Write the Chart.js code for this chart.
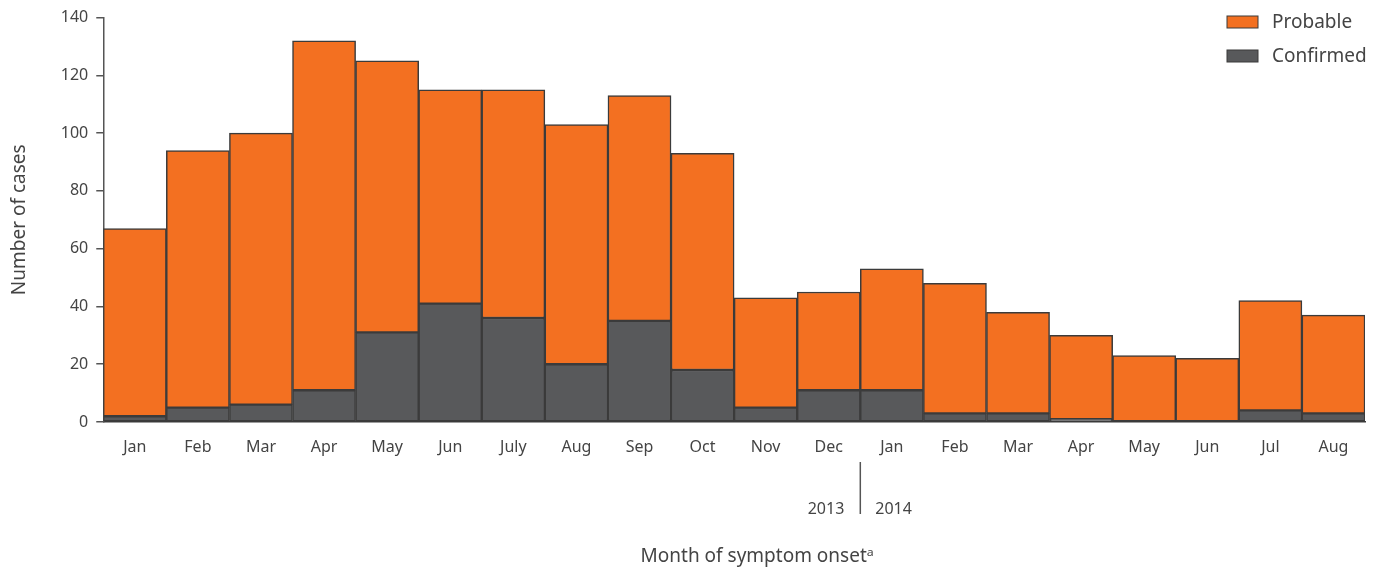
<!DOCTYPE html>
<html>
<head>
<meta charset="utf-8">
<script src="https://cdn.jsdelivr.net/npm/chart.js@4/dist/chart.umd.min.js"></script>
<style>
  body { margin: 0; background: #fff; }
  #wrap { width: 1381px; height: 570px; position: relative; }
</style>
</head>
<body>
<div id="wrap"><canvas id="graphique"></canvas></div>
<script>
const mois = ['Jan', 'Feb', 'Mar', 'Apr', 'May', 'Jun', 'July', 'Aug', 'Sep', 'Oct', 'Nov', 'Dec',
  'Jan', 'Feb', 'Mar', 'Apr', 'May', 'Jun', 'Jul', 'Aug'];
const totaux = [67, 94, 100, 132, 125, 115, 115, 103, 113, 93, 43, 45, 53, 48, 38, 30, 23, 22, 42, 37];
const confirmes = [2, 5, 6, 11, 31, 41, 36, 20, 35, 18, 5, 11, 11, 3, 3, 1, 0, 0, 4, 3];
const probables = totaux.map((t, i) => t - confirmes[i]);
const annees = ['2013', '2014'];
const yTicks = [0, 20, 40, 60, 80, 100, 120, 140];
const titreX = 'Month of symptom onset\u1d43';

const orange = '#F37021';
const gris = '#58595B';
const bord = '#3b3b3b';
const police = '"Noto Sans", "Open Sans", sans-serif';

// années + séparateur + titre x + légende
const extras = {
  id: 'extras',
  afterDraw(chart) {
    const ctx = chart.ctx;
    const x = chart.scales.x;
    const xSep = (x.getPixelForTick(11) + x.getPixelForTick(12)) / 2;
    ctx.save();
    ctx.strokeStyle = '#555';
    ctx.lineWidth = 1.5;
    ctx.beginPath();
    ctx.moveTo(xSep, 462);
    ctx.lineTo(xSep, 514);
    ctx.stroke();
    ctx.fillStyle = '#444';
    ctx.font = '16px ' + police;
    ctx.textBaseline = 'middle';
    ctx.textAlign = 'right';
    ctx.fillText(annees[0], xSep - 16, 509);
    ctx.textAlign = 'left';
    ctx.fillText(annees[1], xSep + 15, 509);

    // titre de l'axe x, un peu décalé à droite comme dans l'original
    ctx.font = '19px ' + police;
    ctx.textAlign = 'center';
    ctx.fillText(titreX, (x.left + x.right) / 2 + 23, 557);

    // légende
    const items = [['Probable', orange], ['Confirmed', gris]];
    items.forEach((it, i) => {
      const y = 22 + i * 34;
      ctx.fillStyle = it[1];
      ctx.fillRect(1227, y - 6, 31, 12);
      ctx.strokeStyle = bord;
      ctx.lineWidth = 1;
      ctx.strokeRect(1227, y - 6, 31, 12);
      ctx.fillStyle = '#444';
      ctx.textAlign = 'left';
      ctx.fillText(it[0], 1272, y + 1);
    });
    ctx.restore();
  }
};

new Chart(document.getElementById('graphique'), {
  type: 'bar',
  data: {
    labels: mois,
    datasets: [
      {
        label: 'Confirmed',
        data: confirmes,
        backgroundColor: gris,
        borderColor: bord,
        borderWidth: 1.5,
        borderSkipped: false,
        barPercentage: 1,
        categoryPercentage: 1
      },
      {
        label: 'Probable',
        data: probables,
        backgroundColor: orange,
        borderColor: bord,
        borderWidth: 1.5,
        borderSkipped: false,
        barPercentage: 1,
        categoryPercentage: 1
      }
    ]
  },
  options: {
    responsive: true,
    maintainAspectRatio: false,
    animation: false,
    layout: { padding: { top: 10, right: 16, left: 8, bottom: 0 } },
    plugins: {
      legend: { display: false },
      tooltip: { enabled: false }
    },
    scales: {
      x: {
        stacked: true,
        grid: { display: false },
        border: { display: true, color: bord, width: 1.5 },
        ticks: { color: '#444', font: { family: police, size: 16 }, padding: 8, maxRotation: 0 },
        title: {
          // place réservée, le texte est dessiné par le plugin
          display: true,
          text: titreX,
          color: 'rgba(0,0,0,0)',
          font: { family: police, size: 19 },
          padding: { top: 82, bottom: 0 }
        }
      },
      y: {
        stacked: true,
        min: 0,
        max: 140,
        afterBuildTicks: (axis) => { axis.ticks = yTicks.map(v => ({ value: v })); },
        grid: { drawOnChartArea: false, drawTicks: true, tickLength: 7, color: '#555', lineWidth: 1.5 },
        border: { display: true, color: '#555', width: 1.5 },
        ticks: { color: '#444', font: { family: police, size: 16 }, padding: 8 },
        title: {
          display: true,
          text: 'Number of cases',
          color: '#444',
          font: { family: police, size: 19 },
          padding: { top: 0, bottom: 22 }
        }
      }
    }
  },
  plugins: [extras]
});
</script>
</body>
</html>
